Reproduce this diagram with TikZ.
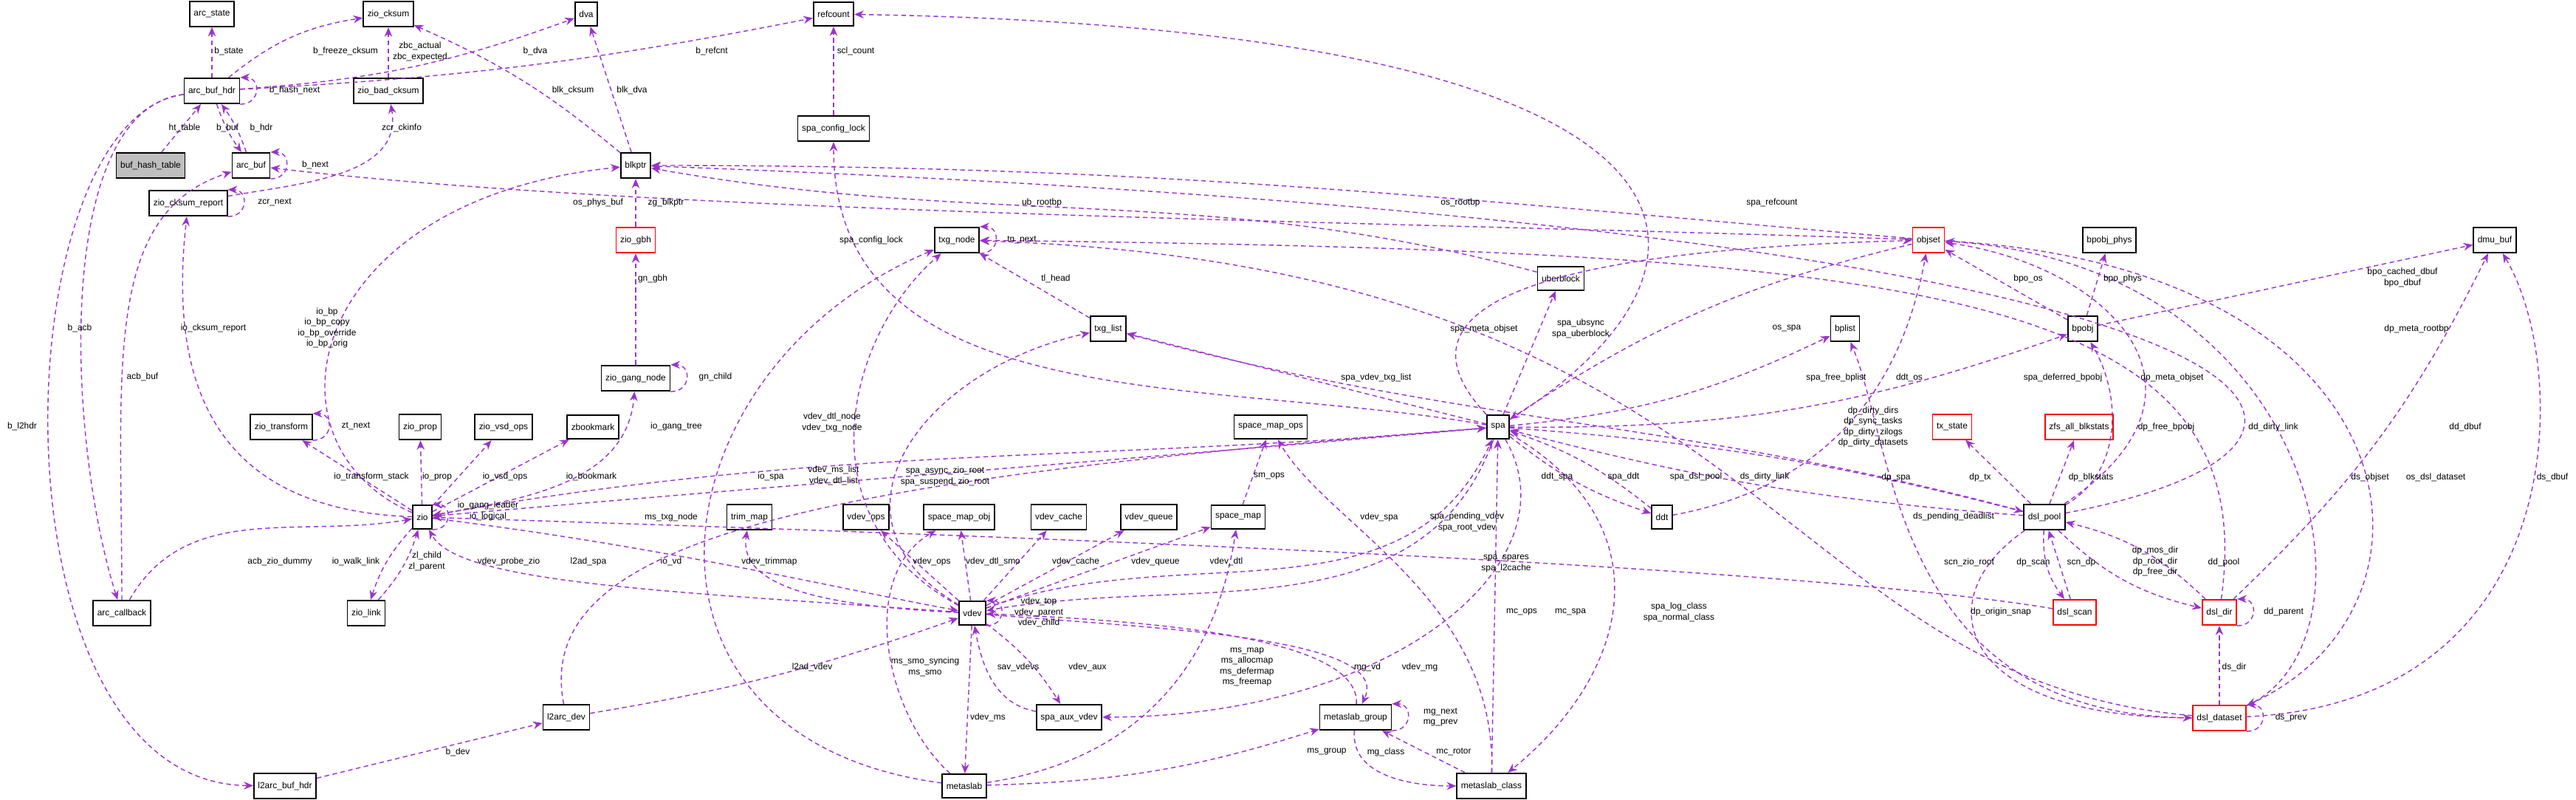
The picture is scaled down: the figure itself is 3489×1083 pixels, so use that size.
\documentclass[tikz,border=0pt]{standalone}
\usepackage{fontspec}
\setmainfont{Liberation Sans}
\usetikzlibrary{arrows.meta}
\definecolor{refc}{RGB}{154,50,205}
\begin{document}
\begin{tikzpicture}[x=0.01cm,y=-0.01cm,
  cls/.style={draw=black,line width=0.5pt,fill=white,inner xsep=1.6pt,minimum height=0.25cm,font=\fontsize{3.4}{4.1}\selectfont},
  hot/.style={cls,draw=red},
  ref/.style={draw=refc,dashed,dash pattern=on 1.8pt off 1.3pt,line width=0.4pt,-{Stealth[length=3.6pt,width=3pt]}},
  lab/.style={inner sep=0pt,align=center,font=\fontsize{3.4}{4.1}\selectfont}]
\useasboundingbox (0,0) rectangle (3489,1083);
\def\self#1{\draw[ref] (#1.south east) to[out=0,in=0,looseness=2] (#1.north east);}
\node[cls] (astate) at (287,19) {arc\_state};
\node[cls] (zcks) at (526,19) {zio\_cksum};
\node[cls] (dva) at (794,19) {dva};
\node[cls] (refcnt) at (1129,19) {refcount};
\node[cls] (ahdr) at (287,123) {arc\_buf\_hdr};
\node[cls] (zbad) at (526,123) {zio\_bad\_cksum};
\node[cls] (scl) at (1129,174) {spa\_config\_lock};
\node[cls,fill=black!25] (bht) at (204,224) {buf\_hash\_table};
\node[cls] (abuf) at (340,224) {arc\_buf};
\node[cls] (bptr) at (861,224) {blkptr};
\node[cls] (zcr) at (255,275) {zio\_cksum\_report};
\node[hot] (zgbh) at (861,325) {zio\_gbh};
\node[cls] (zgn) at (861,512) {zio\_gang\_node};
\node[cls] (ztr) at (381,578) {zio\_transform};
\node[cls] (zprop) at (569,578) {zio\_prop};
\node[cls] (zvsd) at (682,578) {zio\_vsd\_ops};
\node[cls] (zbm) at (803,578) {zbookmark};
\node[cls] (zio) at (572,700) {zio};
\node[cls] (trim) at (1015,700) {trim\_map};
\node[cls] (acb) at (165,830) {arc\_callback};
\node[cls] (zlink) at (496,830) {zio\_link};
\node[cls] (l2dev) at (767,971) {l2arc\_dev};
\node[cls] (l2h) at (386,1064) {l2arc\_buf\_hdr};
\node[cls] (txgn) at (1296,325) {txg\_node};
\node[cls] (txgl) at (1501,445) {txg\_list};
\node[cls] (ub) at (2114,377) {uberblock};
\node[cls] (smops) at (1721,578) {space\_map\_ops};
\node[cls] (spa) at (2029,578) {spa};
\node[cls] (vops) at (1173,700) {vdev\_ops};
\node[cls] (smobj) at (1299,700) {space\_map\_obj};
\node[cls] (vcache) at (1434,700) {vdev\_cache};
\node[cls] (vqueue) at (1556,700) {vdev\_queue};
\node[cls] (smap) at (1677,700) {space\_map};
\node[cls] (ddt) at (2251,700) {ddt};
\node[cls] (vdev) at (1317,830) {vdev};
\node[cls] (aux) at (1448,971) {spa\_aux\_vdev};
\node[cls] (mg) at (1836,971) {metaslab\_group};
\node[cls] (ms) at (1306,1064) {metaslab};
\node[cls] (mc) at (2020,1064) {metaslab\_class};
\node[hot] (objset) at (2612,325) {objset};
\node[cls] (bpphys) at (2857,325) {bpobj\_phys};
\node[cls] (dmubuf) at (3379,325) {dmu\_buf};
\node[cls] (bplist) at (2499,445) {bplist};
\node[cls] (bpobj) at (2821,445) {bpobj};
\node[hot] (txst) at (2644,578) {tx\_state};
\node[hot] (zfsbs) at (2816,578) {zfs\_all\_blkstats};
\node[cls] (dpool) at (2769,700) {dsl\_pool};
\node[hot] (dscan) at (2810,829) {dsl\_scan};
\node[hot] (ddir) at (3006,829) {dsl\_dir};
\node[hot] (dsds) at (3006,972) {dsl\_dataset};

\draw[ref] (ahdr) -- (astate);
\draw[ref] (ahdr) to[bend left=15] (zcks);
\draw[ref] (zbad) -- (zcks);
\draw[ref] (ahdr) to[bend right=8] (dva);
\draw[ref] (ahdr) to[bend right=4] (refcnt);
\self{ahdr}
\draw[ref] (bptr) to[bend right=8] (zcks);
\draw[ref] (bptr) -- (dva);
\draw[ref] (scl) -- (refcnt);
\draw[ref] (bht) -- (ahdr);
\draw[ref] (abuf) to[bend right=8] (ahdr);
\draw[ref] (ahdr) to[bend right=8] (abuf);
\self{abuf}
\draw[ref] (zcr) to[out=10,in=-80] (zbad);
\self{zcr}
\draw[ref] (objset) .. controls (1900,300) and (900,290) .. (abuf);
\draw[ref] (zgbh) -- (bptr);
\draw[ref] (zgn) -- (zgbh);
\self{zgn}
\draw[ref] (zio) to[out=10,in=-95] (zgn);
\draw[ref] (zio) .. controls (344,600) and (413,270) .. (bptr);
\draw[ref] (zio) .. controls (275,690) and (230,500) .. (zcr);
\draw[ref] (ahdr) .. controls (70,150) and (92,600) .. (acb);
\draw[ref] (acb) .. controls (165,500) and (138,290) .. (abuf);
\draw[ref] (ahdr) .. controls (0,160) and (-20,1060) .. (l2h);
\draw[ref] (zio) -- (ztr);
\self{ztr}
\draw[ref] (zio) -- (zprop);
\draw[ref] (zio) -- (zvsd);
\draw[ref] (zio) -- (zbm);
\self{zio}
\draw[ref] (zio) to[out=5,in=185] (spa);
\draw[ref] (acb) to[out=60,in=190] (zio);
\draw[ref] (zio) to[bend right=12] (zlink);
\draw[ref] (zlink) to[bend right=12] (zio);
\draw[ref] (vdev) .. controls (900,800) and (620,790) .. (zio);
\draw[ref] (l2dev) .. controls (720,730) and (1100,650) .. (spa);
\draw[ref] (zio) .. controls (900,740) and (1150,800) .. (vdev);
\draw[ref] (vdev) .. controls (1100,820) and (1000,790) .. (trim);
\draw[ref] (l2h) -- (l2dev);
\draw[ref] (l2dev) to[bend right=5] (vdev);
\draw[ref] (ms) .. controls (820,1000) and (880,500) .. (txgn);
\draw[ref] (vdev) .. controls (1080,700) and (1150,450) .. (txgn);
\draw[ref] (vdev) .. controls (1100,700) and (1250,500) .. (txgl);
\draw[ref] (spa) to[out=185,in=10] (zio);
\self{txgn}
\draw[ref] (txgl) -- (txgn);
\draw[ref] (ub) to[out=165,in=-10] (bptr);
\draw[ref] (objset) to[out=175,in=0] (bptr);
\draw[ref] (spa) .. controls (2375,360) and (2375,40) .. (refcnt);
\draw[ref] (spa) to[out=170,in=-90] (scl);
\draw[ref] (objset) to[bend right=10] (spa);
\draw[ref] (spa) .. controls (1890,430) and (2030,340) .. (objset);
\draw[ref] (spa) -- (ub);
\draw[ref] (spa) -- (txgl);
\draw[ref] (spa) to[bend right=10] (bplist);
\draw[ref] (ddt) .. controls (2525,650) and (2587,460) .. (objset);
\draw[ref] (spa) to[bend right=10] (bpobj);
\draw[ref] (dpool) .. controls (3025,530) and (2858,360) .. (objset);
\draw[ref] (bpobj) -- (objset);
\draw[ref] (bpobj) -- (bpphys);
\draw[ref] (bpobj) -- (dmubuf);
\draw[ref] (dpool) .. controls (3296,600) and (3191,310) .. (bptr);
\draw[ref] (dpool) to[out=165,in=-15] (txgl);
\draw[ref] (dpool) -- (txst);
\draw[ref] (dpool) -- (zfsbs);
\draw[ref] (dpool) to[out=30,in=-60] (bpobj);
\draw[ref] (ddir) .. controls (3067,390) and (2608,340) .. (txgn);
\draw[ref] (dsds) .. controls (2400,920) and (2400,360) .. (txgn);
\draw[ref] (ddir) to[bend right=10] (dmubuf);
\draw[ref] (dsds) .. controls (3233,870) and (3150,360) .. (objset);
\draw[ref] (objset) .. controls (3275,360) and (3337,820) .. (dsds);
\draw[ref] (dsds) .. controls (3483,950) and (3483,500) .. (dmubuf);
\draw[ref] (dpool) to[bend left=5] (spa);
\draw[ref] (spa) to[bend left=5] (dpool);
\draw[ref] (ddt) to[bend right=10] (spa);
\draw[ref] (spa) to[bend right=10] (ddt);
\draw[ref] (dsds) .. controls (2567,970) and (2567,610) .. (bplist);
\draw[ref] (dscan) .. controls (2400,760) and (1200,720) .. (zio);
\draw[ref] (dpool) to[bend right=20] (dscan);
\draw[ref] (dscan) -- (dpool);
\draw[ref] (dpool) to[bend right=15] (ddir);
\draw[ref] (ddir) to[bend right=15] (dpool);
\self{ddir}
\draw[ref] (dsds) -- (ddir);
\self{dsds}
\draw[ref] (dpool) .. controls (2608,810) and (2650,970) .. (dsds);
\draw[ref] (vdev) to[out=20,in=-115] (spa);
\draw[ref] (spa) to[out=-110,in=10] (vdev);
\draw[ref] (spa) .. controls (2135,760) and (1890,970) .. (aux);
\draw[ref] (vdev) -- (vops);
\draw[ref] (vdev) -- (smobj);
\draw[ref] (vdev) -- (vcache);
\draw[ref] (vdev) -- (vqueue);
\draw[ref] (vdev) -- (smap);
\draw[ref] (smap) -- (smops);
\self{vdev}
\draw[ref] (ms) .. controls (1200,970) and (1160,780) .. (smobj);
\draw[ref] (aux) to[out=170,in=-80] (vdev);
\draw[ref] (vdev) to[bend left=10] (aux);
\draw[ref] (ms) .. controls (1613,1018) and (1659,810) .. (smap);
\draw[ref] (mg) .. controls (1843,860) and (1544,840) .. (vdev);
\draw[ref] (vdev) .. controls (1544,850) and (1889,860) .. (mg);
\self{mg}
\draw[ref] (vdev) -- (ms);
\draw[ref] (ms) to[bend right=8] (mg);
\draw[ref] (mg) to[out=-95,in=180] (mc);
\draw[ref] (mc) -- (mg);
\draw[ref] (mc) .. controls (2027,810) and (1797,710) .. (smops);
\draw[ref] (mc) -- (spa);
\draw[ref] (spa) .. controls (2256,710) and (2210,910) .. (mc);

\node[lab] (l1) at (310,69) {b\_state};
\node[lab] (l2) at (468,69) {b\_freeze\_cksum};
\node[lab] (l3) at (569,70) {zbc\_actual\\zbc\_expected};
\node[lab] (l4) at (725,69) {b\_dva};
\node[lab] (l5) at (964,69) {b\_refcnt};
\node[lab] (l6) at (399,122) {b\_hash\_next};
\node[lab] (l7) at (776,122) {blk\_cksum};
\node[lab] (l8) at (856,122) {blk\_dva};
\node[lab] (l9) at (1159,69) {scl\_count};
\node[lab] (l10) at (250,173) {ht\_table};
\node[lab] (l11) at (354,173) {b\_hdr};
\node[lab] (l12) at (308,173) {b\_buf};
\node[lab] (l13) at (427,223) {b\_next};
\node[lab] (l14) at (544,173) {zcr\_ckinfo};
\node[lab] (l15) at (372,274) {zcr\_next};
\node[lab] (l16) at (810,274) {os\_phys\_buf};
\node[lab] (l17) at (902,274) {zg\_blkptr};
\node[lab] (l18) at (884,377) {gn\_gbh};
\node[lab] (l19) at (969,510) {gn\_child};
\node[lab] (l20) at (916,577) {io\_gang\_tree};
\node[lab] (l21) at (443,444) {io\_bp\\io\_bp\_copy\\io\_bp\_override\\io\_bp\_orig};
\node[lab] (l22) at (289,444) {io\_cksum\_report};
\node[lab] (l23) at (108,444) {b\_acb};
\node[lab] (l24) at (193,510) {acb\_buf};
\node[lab] (l25) at (30,577) {b\_l2hdr};
\node[lab] (l26) at (503,645) {io\_transform\_stack};
\node[lab] (l27) at (482,577) {zt\_next};
\node[lab] (l28) at (592,645) {io\_prop};
\node[lab] (l29) at (684,645) {io\_vsd\_ops};
\node[lab] (l30) at (801,645) {io\_bookmark};
\node[lab] (l31) at (661,692) {io\_gang\_leader\\io\_logical};
\node[lab] (l32) at (1044,645) {io\_spa};
\node[lab] (l33) at (379,760) {acb\_zio\_dummy};
\node[lab] (l34) at (482,760) {io\_walk\_link};
\node[lab] (l35) at (578,760) {zl\_child\\zl\_parent};
\node[lab] (l36) at (689,760) {vdev\_probe\_zio};
\node[lab] (l37) at (797,760) {l2ad\_spa};
\node[lab] (l38) at (909,760) {io\_vd};
\node[lab] (l39) at (1042,760) {vdev\_trimmap};
\node[lab] (l40) at (620,1018) {b\_dev};
\node[lab] (l41) at (1100,903) {l2ad\_vdev};
\node[lab] (l42) at (909,700) {ms\_txg\_node};
\node[lab] (l43) at (1127,572) {vdev\_dtl\_node\\vdev\_txg\_node};
\node[lab] (l44) at (1129,644) {vdev\_ms\_list\\vdev\_dtl\_list};
\node[lab] (l45) at (1280,645) {spa\_async\_zio\_root\\spa\_suspend\_zio\_root};
\node[lab] (l46) at (1384,325) {tn\_next};
\node[lab] (l47) at (1430,377) {tl\_head};
\node[lab] (l48) at (1411,274) {ub\_rootbp};
\node[lab] (l49) at (1978,274) {os\_rootbp};
\node[lab] (l50) at (2400,274) {spa\_refcount};
\node[lab] (l51) at (1180,325) {spa\_config\_lock};
\node[lab] (l52) at (2420,445) {os\_spa};
\node[lab] (l53) at (2010,445) {spa\_meta\_objset};
\node[lab] (l54) at (2141,445) {spa\_ubsync\\spa\_uberblock};
\node[lab] (l55) at (1864,511) {spa\_vdev\_txg\_list};
\node[lab] (l56) at (2487,511) {spa\_free\_bplist};
\node[lab] (l57) at (2586,511) {ddt\_os};
\node[lab] (l58) at (2794,511) {spa\_deferred\_bpobj};
\node[lab] (l59) at (2942,511) {dp\_meta\_objset};
\node[lab] (l60) at (2747,377) {bpo\_os};
\node[lab] (l61) at (2875,377) {bpo\_phys};
\node[lab] (l62) at (3254,376) {bpo\_cached\_dbuf\\bpo\_dbuf};
\node[lab] (l63) at (3273,445) {dp\_meta\_rootbp};
\node[lab] (l64) at (2537,578) {dp\_dirty\_dirs\\dp\_sync\_tasks\\dp\_dirty\_zilogs\\dp\_dirty\_datasets};
\node[lab] (l65) at (2682,646) {dp\_tx};
\node[lab] (l66) at (2832,646) {dp\_blkstats};
\node[lab] (l67) at (2934,578) {dp\_free\_bpobj};
\node[lab] (l68) at (3079,578) {dd\_dirty\_link};
\node[lab] (l69) at (2390,645) {ds\_dirty\_link};
\node[lab] (l70) at (3339,578) {dd\_dbuf};
\node[lab] (l71) at (3210,646) {ds\_objset};
\node[lab] (l72) at (3299,646) {os\_dsl\_dataset};
\node[lab] (l73) at (3457,646) {ds\_dbuf};
\node[lab] (l74) at (2568,646) {dp\_spa};
\node[lab] (l75) at (2297,645) {spa\_dsl\_pool};
\node[lab] (l76) at (2109,645) {ddt\_spa};
\node[lab] (l77) at (2199,645) {spa\_ddt};
\node[lab] (l78) at (2646,699) {ds\_pending\_deadlist};
\node[lab] (l79) at (2667,761) {scn\_zio\_root};
\node[lab] (l80) at (2754,761) {dp\_scan};
\node[lab] (l81) at (2819,761) {scn\_dp};
\node[lab] (l82) at (2919,760) {dp\_mos\_dir\\dp\_root\_dir\\dp\_free\_dir};
\node[lab] (l83) at (3012,761) {dd\_pool};
\node[lab] (l84) at (3093,828) {dd\_parent};
\node[lab] (l85) at (3026,903) {ds\_dir};
\node[lab] (l86) at (3103,971) {ds\_prev};
\node[lab] (l87) at (2710,828) {dp\_origin\_snap};
\node[lab] (l88) at (1868,700) {vdev\_spa};
\node[lab] (l89) at (1987,707) {spa\_pending\_vdev\\spa\_root\_vdev};
\node[lab] (l90) at (2040,763) {spa\_spares\\spa\_l2cache};
\node[lab] (l91) at (1262,760) {vdev\_ops};
\node[lab] (l92) at (1345,760) {vdev\_dtl\_smo};
\node[lab] (l93) at (1457,760) {vdev\_cache};
\node[lab] (l94) at (1565,760) {vdev\_queue};
\node[lab] (l95) at (1661,760) {vdev\_dtl};
\node[lab] (l96) at (1719,645) {sm\_ops};
\node[lab] (l97) at (1407,829) {vdev\_top\\vdev\_parent\\vdev\_child};
\node[lab] (l98) at (1253,903) {ms\_smo\_syncing\\ms\_smo};
\node[lab] (l99) at (1379,903) {sav\_vdevs};
\node[lab] (l100) at (1473,903) {vdev\_aux};
\node[lab] (l101) at (1689,903) {ms\_map\\ms\_allocmap\\ms\_defermap\\ms\_freemap};
\node[lab] (l102) at (1852,903) {mg\_vd};
\node[lab] (l103) at (1923,903) {vdev\_mg};
\node[lab] (l104) at (1951,971) {mg\_next\\mg\_prev};
\node[lab] (l105) at (1338,971) {vdev\_ms};
\node[lab] (l106) at (1797,1018) {ms\_group};
\node[lab] (l107) at (1877,1018) {mg\_class};
\node[lab] (l108) at (1969,1018) {mc\_rotor};
\node[lab] (l109) at (2061,829) {mc\_ops};
\node[lab] (l110) at (2127,829) {mc\_spa};
\node[lab] (l111) at (2274,829) {spa\_log\_class\\spa\_normal\_class};
\end{tikzpicture}
\end{document}
